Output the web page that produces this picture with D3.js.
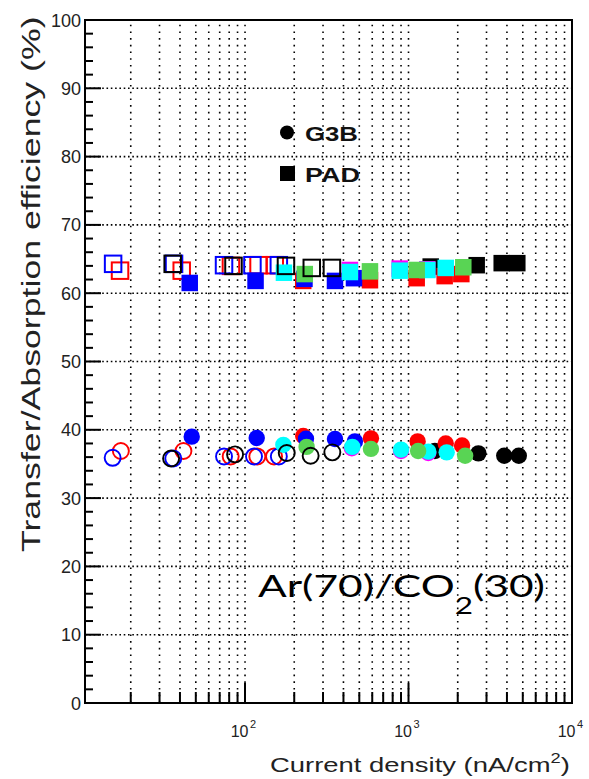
<!DOCTYPE html>
<html><head><meta charset="utf-8">
<script src="https://cdn.jsdelivr.net/npm/d3@7"></script>
<style>
html,body{margin:0;padding:0;background:#fff;}
svg{display:block;}
text{font-family:"Liberation Sans",Arial,Helvetica,sans-serif;}
text.gas{font-family:Lato,"Open Sans",sans-serif;}
</style></head><body>
<svg id="chart" width="589" height="779"></svg>
<script>
// ---------- data ----------
const yTickValues = [0, 10, 20, 30, 40, 50, 60, 70, 80, 90, 100];
const yGridValues = [10, 20, 30, 40, 50, 60, 70, 80, 90];
const xLabelValues = [100, 1000, 10000];
const xLabelExponents = ["2", "3", "4"];
const legendLabels = ["G3B", "PAD"];
const legendShapes = ["circle", "square"];
const gasParts = ["Ar(70)/CO", "2", "(30)"];
const xTitle = "Current density (nA/cm";
const yTitle = "Transfer/Absorption efficiency (%)";

// [current density (nA/cm2), efficiency (%)]
const redOpenG3B    = [[17.4, 36.9], [42, 36.9], [81.7, 36.1], [118.9, 36.1], [150.5, 36.1]];
const redOpenPAD    = [[17.2, 63.3], [41, 63.3], [82, 64.0], [121, 64.1], [152, 64.1]];
const blueOpenG3B   = [[15.5, 35.9], [36.4, 35.8], [74.4, 36.1], [113.5, 36.1], [161, 36.1]];
const blueOpenPAD   = [[15.6, 64.3], [36.8, 64.3], [74.4, 64.1], [111, 64.1], [161, 64.1]];
const blackOpenG3B  = [[35.3, 35.8], [86.9, 36.4], [180, 36.6], [252, 36.2], [342, 36.7]];
const blackOpenPAD  = [[36.1, 64.3], [85, 64.0], [178, 64.0], [256, 63.7], [340, 63.7]];
const blackFullG3B  = [[1450, 36.9], [2676, 36.55], [3852, 36.2], [4727, 36.2]];
const blackFullPAD  = [[1367, 63.9], [2612, 64.1], [3716, 64.4], [4628, 64.4]];
const redFullG3B    = [[227, 39.1], [589, 38.75], [1137, 38.3], [1689, 38.0], [2126, 37.7]];
const redFullPAD    = [[227, 61.8], [581, 61.9], [1122, 62.2], [1664, 62.5], [2104, 62.8]];
const blueFullG3B   = [[47.2, 39.0], [117.9, 38.8], [236, 38.7], [355, 38.65], [470, 38.3]];
const blueFullPAD   = [[45.9, 61.5], [116, 61.8], [231, 62.1], [355, 61.8], [464, 62.2]];
const magentaFullG3B = [[450, 37.3], [900, 36.9], [1321, 36.6]];
const magentaFullPAD = [[438, 63.4], [883, 63.6], [1303, 63.5]];
const cyanFullG3B   = [[171.6, 37.8], [453, 37.5], [900, 37.1], [1321, 36.8], [1712, 36.7]];
const cyanFullPAD   = [[173, 63.0], [438, 63.1], [883, 63.3], [1303, 63.4], [1689, 63.7]];
const greenFullG3B  = [[238, 37.5], [589, 37.2], [1145, 36.9], [2220, 36.2]];
const greenFullPAD  = [[232, 62.8], [581, 63.2], [1122, 63.4], [2163, 63.8]];

// drawing order, back to front
const series = [
  {data: redOpenPAD, shape: "square", filled: false, color: "#ff0000"},
  {data: redOpenG3B, shape: "circle", filled: false, color: "#ff0000"},
  {data: blueOpenPAD, shape: "square", filled: false, color: "#0000ff"},
  {data: blueOpenG3B, shape: "circle", filled: false, color: "#0000ff"},
  {data: blackFullPAD, shape: "square", filled: true, color: "#000000"},
  {data: blackFullG3B, shape: "circle", filled: true, color: "#000000"},
  {data: redFullPAD, shape: "square", filled: true, color: "#ff0000"},
  {data: redFullG3B, shape: "circle", filled: true, color: "#ff0000"},
  {data: blueFullPAD, shape: "square", filled: true, color: "#0000ff"},
  {data: blueFullG3B, shape: "circle", filled: true, color: "#0000ff"},
  {data: magentaFullPAD, shape: "square", filled: true, color: "#ff00ff"},
  {data: magentaFullG3B, shape: "circle", filled: true, color: "#ff00ff"},
  {data: cyanFullPAD, shape: "square", filled: true, color: "#00ffff"},
  {data: cyanFullG3B, shape: "circle", filled: true, color: "#00ffff"},
  {data: greenFullPAD, shape: "square", filled: true, color: "#59d454"},
  {data: greenFullG3B, shape: "circle", filled: true, color: "#59d454"},
  {data: blackOpenPAD, shape: "square", filled: false, color: "#000000"},
  {data: blackOpenG3B, shape: "circle", filled: false, color: "#000000"}
];

// ---------- layout ----------
const frame = {left: 85, right: 572, top: 20, bottom: 703};
const svg = d3.select("#chart");

const x = d3.scaleLog().domain([10.5, 1e4]).range([frame.left, frame.right]);
const y = d3.scaleLinear().domain([0, 100]).range([frame.bottom, frame.top]);

// dotted grid
const grid = svg.append("g").attr("stroke", "#000").attr("stroke-width", 1.6);
const xGridValues = x.ticks().filter(v => v > x.domain()[0] && v < x.domain()[1]);
grid.selectAll("line.vx").data(xGridValues).join("line")
  .attr("class", "vx")
  .attr("x1", d => x(d)).attr("x2", d => x(d))
  .attr("y1", frame.bottom).attr("y2", frame.top)
  .attr("stroke-dasharray", "1.6,5.1");
grid.selectAll("line.hy").data(yGridValues).join("line")
  .attr("class", "hy")
  .attr("x1", frame.left).attr("x2", frame.right)
  .attr("y1", d => y(d)).attr("y2", d => y(d))
  .attr("stroke-dasharray", "1.6,2.7");

// ticks
const ticks = svg.append("g").attr("stroke", "#000").attr("stroke-width", 2);
const yMinor = d3.range(0, 101, 2);
ticks.selectAll("line.yt").data(yMinor).join("line")
  .attr("class", "yt")
  .attr("x1", frame.left).attr("x2", d => frame.left + (d % 10 === 0 ? 16 : 8))
  .attr("y1", d => y(d)).attr("y2", d => y(d));
const isDecade = v => Math.abs(Math.log10(v) - Math.round(Math.log10(v))) < 1e-9;
ticks.selectAll("line.xt").data(xGridValues).join("line")
  .attr("class", "xt")
  .attr("x1", d => x(d)).attr("x2", d => x(d))
  .attr("y1", frame.bottom).attr("y2", d => frame.bottom - (isDecade(d) ? 20 : 11));

// frame
svg.append("rect")
  .attr("x", frame.left).attr("y", frame.top)
  .attr("width", frame.right - frame.left).attr("height", frame.bottom - frame.top)
  .attr("fill", "none").attr("stroke", "#000").attr("stroke-width", 2);

// tick labels
svg.append("g").selectAll("text").data(yTickValues).join("text")
  .attr("x", 81).attr("y", d => y(d) + 6.5)
  .attr("text-anchor", "end").attr("font-size", 18).attr("fill", "#222")
  .text(d => d);

const xl = svg.append("g").attr("fill", "#222");
xLabelValues.forEach((v, i) => {
  xl.append("text").attr("x", x(v) + 3.5).attr("y", 737)
    .attr("text-anchor", "end").attr("font-size", 16).text("10");
  xl.append("text").attr("x", x(v) + 5).attr("y", 728)
    .attr("font-size", 11).text(xLabelExponents[i]);
});

// helper: stretch a text element so it spans a given length
function fitLength(textSel, len) {
  const w = textSel.node().getBBox().width;
  textSel.attr("transform", `scale(${len / w},1)`);
}

// axis titles
const xt = svg.append("g").attr("transform", "translate(270,772)")
  .append("text").attr("font-size", 21).attr("fill", "#222");
xt.append("tspan").text(xTitle);
xt.append("tspan").attr("dy", -9).attr("font-size", 14).text("2");
xt.append("tspan").attr("dy", 9).text(")");
fitLength(xt, 300);

const yt = svg.append("g").attr("transform", "translate(40,552) rotate(-90)")
  .append("text").attr("font-size", 26).attr("fill", "#222").text(yTitle);
fitLength(yt, 536);

// markers
const markers = svg.append("g");
series.forEach(s => {
  const g = markers.append("g");
  if (s.shape === "square") {
    const side = 16.5;
    g.selectAll("rect").data(s.data).join("rect")
      .attr("x", d => x(d[0]) - side / 2).attr("y", d => y(d[1]) - side / 2)
      .attr("width", side).attr("height", side)
      .attr("fill", s.filled ? s.color : "none")
      .attr("stroke", s.filled ? "none" : s.color)
      .attr("stroke-width", 2);
  } else {
    g.selectAll("circle").data(s.data).join("circle")
      .attr("cx", d => x(d[0])).attr("cy", d => y(d[1]))
      .attr("r", s.filled ? 8.2 : 8)
      .attr("fill", s.filled ? s.color : "none")
      .attr("stroke", s.filled ? "none" : s.color)
      .attr("stroke-width", 1.9);
  }
});

// legend
const legendRows = [140.7, 181.7];
const legendWidths = [53, 55];
legendLabels.forEach((lab, i) => {
  const cy = legendRows[i] - 8.2;
  if (legendShapes[i] === "circle") {
    svg.append("circle").attr("cx", 287).attr("cy", cy).attr("r", 7).attr("fill", "#000");
  } else {
    svg.append("rect").attr("x", 280).attr("y", cy - 7.5).attr("width", 15).attr("height", 15).attr("fill", "#000");
  }
  const t = svg.append("g").attr("transform", `translate(305,${legendRows[i]})`)
    .append("text").attr("font-size", 20.5).attr("font-weight", "bold").attr("fill", "#111").text(lab);
  fitLength(t, legendWidths[i]);
});

// gas mixture annotation
const gas = svg.append("g").attr("transform", "translate(258,597)")
  .append("text").attr("class", "gas").attr("font-size", 31).attr("fill", "#000");
gas.append("tspan").text(gasParts[0]);
gas.append("tspan").attr("dy", 17).attr("font-size", 23).text(gasParts[1]);
gas.append("tspan").attr("dy", -17).text(gasParts[2]);
fitLength(gas, 287);
</script>
</body></html>
